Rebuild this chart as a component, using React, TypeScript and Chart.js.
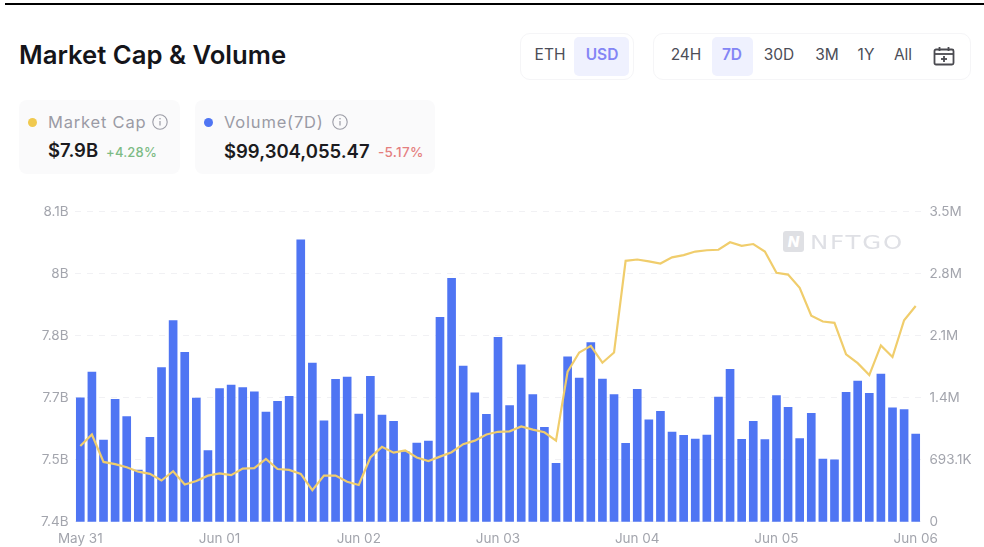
import React, { useEffect, useRef } from "react";
import { Chart, registerables } from "chart.js";

Chart.register(...registerables);

const days = ["May 31", "Jun 01", "Jun 02", "Jun 03", "Jun 04", "Jun 05"];
const hours = ["00", "02", "04", "06", "08", "10", "12", "14", "16", "18", "20", "22"];
const categories = [...days.flatMap((d) => hours.map((h) => `${d} ${h}:00`)), "Jun 06 00:00"];

// Volume (7D), USD thousands, one bar per two hours
const volumeK = [
  1386, 1673, 913, 1368, 1174, 578, 943, 1722, 2247, 1893, 1382, 794,
  1487, 1528, 1498, 1453, 1226, 1345, 1401, 3152, 1774, 1129, 1591, 1617,
  1204, 1625, 1192, 1122, 783, 879, 902, 2284, 2720, 1740, 1442, 1200,
  2061, 1297, 1755, 1420, 1055, 652, 1844, 1606, 2001, 1595, 1420, 876,
  1479, 1140, 1233, 1002, 965, 924, 969, 1394, 1703, 920, 1122, 917,
  1409, 1278, 928, 1211, 701, 693, 1446, 1572, 1435, 1651, 1274, 1252,
  980,
];

// Market cap, USD billions
const marketCapB = [
  7.571, 7.597, 7.535, 7.53, 7.523, 7.513, 7.508, 7.493, 7.514, 7.484, 7.492, 7.504,
  7.509, 7.505, 7.52, 7.521, 7.542, 7.519, 7.517, 7.508, 7.471, 7.504, 7.504, 7.49,
  7.483, 7.545, 7.569, 7.556, 7.561, 7.545, 7.537, 7.547, 7.557, 7.575, 7.583, 7.597,
  7.603, 7.604, 7.615, 7.608, 7.602, 7.583, 7.739, 7.782, 7.797, 7.759, 7.782, 7.989,
  7.992, 7.988, 7.983, 7.997, 8.002, 8.01, 8.013, 8.014, 8.031, 8.023, 8.027, 8.01,
  7.962, 7.958, 7.928, 7.865, 7.852, 7.849, 7.778, 7.758, 7.731, 7.798, 7.772, 7.855,
  7.887,
];

const leftTickValues = [7.4, 7.54, 7.68, 7.82, 7.96, 8.1];
const leftTickLabels = ["7.4B", "7.5B", "7.7B", "7.8B", "8B", "8.1B"];
const rightTickValues = [0, 693.1, 1386.2, 2079.3, 2772.4, 3465.5];
const rightTickLabels = ["0", "693.1K", "1.4M", "2.1M", "2.8M", "3.5M"];

const currencies = [
  { label: "ETH", x: 550, active: false },
  { label: "USD", x: 602, active: true },
];
const ranges = [
  { label: "24H", x: 686, active: false },
  { label: "7D", x: 732, active: true },
  { label: "30D", x: 779, active: false },
  { label: "3M", x: 827, active: false },
  { label: "1Y", x: 866, active: false },
  { label: "All", x: 903, active: false },
];

const FONT = "Inter, 'Open Sans', sans-serif";
const TICK_SIZE = 13.5;
const box = (l: number, t: number, w: number, h: number, extra: React.CSSProperties = {}): React.CSSProperties => ({
  position: "absolute", left: l, top: t, width: w, height: h, boxSizing: "border-box", ...extra,
});
const text = (l: number, cy: number, size: number, weight: number, color: string, extra: React.CSSProperties = {}): React.CSSProperties => ({
  position: "absolute", left: l, top: cy - 12, height: 24, lineHeight: "24px", fontSize: size, fontWeight: weight, color, whiteSpace: "nowrap", ...extra,
});

function Info({ x, y }: { x: number; y: number }) {
  return (
    <svg style={{ position: "absolute", left: x - 9, top: y - 9 }} width={18} height={18} viewBox="0 0 18 18">
      <circle cx={9} cy={9} r={7.2} fill="none" stroke="#9b9ca6" strokeWidth={1.1} />
      <line x1={9} y1={8} x2={9} y2={12.5} stroke="#9b9ca6" strokeWidth={1.2} />
      <circle cx={9} cy={5.8} r={0.8} fill="#9b9ca6" />
    </svg>
  );
}

export default function App() {
  const ref = useRef<HTMLCanvasElement | null>(null);

  useEffect(() => {
    const chart = new Chart(ref.current!, {
      data: {
        labels: categories,
        datasets: [
          {
            type: "line",
            data: marketCapB,
            yAxisID: "yCap",
            borderColor: "#f0cd6c",
            borderWidth: 2.2,
            pointRadius: 0,
            tension: 0,
            order: 0,
          },
          {
            type: "bar",
            data: volumeK,
            yAxisID: "yVol",
            backgroundColor: "#4f75f3",
            barThickness: 8,
            order: 1,
          },
        ],
      } as any,
      options: {
        animation: false,
        responsive: false,
        layout: { padding: { top: 21.7, left: 0, right: 0, bottom: 0 } },
        plugins: { legend: { display: false }, tooltip: { enabled: false } },
        scales: {
          x: {
            offset: true,
            grid: { display: false, drawTicks: false },
            border: { display: false },
            afterFit: (s: any) => { s.height = 25.3; },
            ticks: {
              autoSkip: false,
              maxRotation: 0,
              padding: 9,
              color: "#a3a5ad",
              font: { family: FONT, size: TICK_SIZE },
              callback: (_v: any, i: number) => {
                const c = categories[i];
                return c.endsWith(" 00:00") ? c.slice(0, 6) : "";
              },
            },
          },
          yCap: {
            position: "left",
            min: 7.4,
            max: 8.1,
            border: { display: false, dash: [6, 6] },
            afterFit: (s: any) => { s.width = 74.5; },
            afterBuildTicks: (s: any) => { s.ticks = leftTickValues.map((value) => ({ value })); },
            grid: { color: "#f1f1f4", drawTicks: false, lineWidth: 1 },
            ticks: {
              padding: 6,
              color: "#a3a5ad",
              font: { family: FONT, size: TICK_SIZE },
              callback: (_v: any, i: number) => leftTickLabels[i],
            },
          },
          yVol: {
            position: "right",
            min: 0,
            max: 3465.5,
            border: { display: false },
            afterFit: (s: any) => { s.width = 62.5; },
            afterBuildTicks: (s: any) => { s.ticks = rightTickValues.map((value) => ({ value })); },
            grid: { display: false, drawTicks: false },
            ticks: {
              padding: 8,
              color: "#a3a5ad",
              font: { family: FONT, size: TICK_SIZE },
              callback: (_v: any, i: number) => rightTickLabels[i],
            },
          },
        },
      },
    } as any);
    return () => chart.destroy();
  }, []);

  return (
    <div style={{ position: "absolute", left: 0, top: 0, width: 984, height: 547, overflow: "hidden", background: "#fff", fontFamily: FONT }}>
      <div style={box(5, 3, 979, 2, { background: "#000" })} />
      <div style={text(19, 55, 25.7, 600, "#15151a")}>Market Cap &amp; Volume</div>

      <div style={box(19, 100, 161, 74, { background: "#fafafb", borderRadius: 8 })} />
      <div style={box(28, 118, 9, 9, { background: "#f0c94f", borderRadius: "50%" })} />
      <div style={text(48, 122, 16.5, 400, "#9a9ba5", { letterSpacing: 0.8 })}>Market Cap</div>
      <Info x={160} y={122} />
      <div style={text(48, 150, 18.5, 600, "#1b1b20")}>$7.9B</div>
      <div style={text(106, 152, 13, 500, "#7dbb85", { letterSpacing: 0.2 })}>+4.28%</div>

      <div style={box(195, 100, 240, 74, { background: "#fafafb", borderRadius: 8 })} />
      <div style={box(204, 118, 9, 9, { background: "#4f75f3", borderRadius: "50%" })} />
      <div style={text(224, 122, 16.5, 400, "#9a9ba5", { letterSpacing: 0.8 })}>Volume(7D)</div>
      <Info x={340} y={122} />
      <div style={text(224, 151, 18.5, 600, "#1b1b20")}>$99,304,055.47</div>
      <div style={text(378, 152, 13.5, 500, "#e57f7f", { letterSpacing: 0.3 })}>-5.17%</div>

      <div style={box(520, 33, 114, 47, { border: "1.5px solid #f5f5f7", borderRadius: 10 })} />
      <div style={box(574, 37, 55, 39, { background: "#eff1fe", borderRadius: 5 })} />
      <div style={box(653, 33, 318, 47, { border: "1.5px solid #f5f5f7", borderRadius: 10 })} />
      <div style={box(712, 37, 41, 39, { background: "#eff1fe", borderRadius: 5 })} />
      {[...currencies, ...ranges].map((b) => (
        <div key={b.label} style={text(b.x, 55, 15.5, b.active ? 600 : 400, b.active ? "#8385f5" : "#4c4d57", { transform: "translateX(-50%)" })}>
          {b.label}
        </div>
      ))}
      <svg style={{ position: "absolute", left: 933, top: 46 }} width={22} height={20} viewBox="0 0 22 20">
        <rect x={1.5} y={3.5} width={19} height={15} rx={1.5} fill="none" stroke="#4a4a50" strokeWidth={1.8} />
        <line x1={1.5} y1={8} x2={20.5} y2={8} stroke="#4a4a50" strokeWidth={1.8} />
        <line x1={6.5} y1={1} x2={6.5} y2={5} stroke="#4a4a50" strokeWidth={1.8} />
        <line x1={15.5} y1={1} x2={15.5} y2={5} stroke="#4a4a50" strokeWidth={1.8} />
        <line x1={8} y1={13} x2={14} y2={13} stroke="#4a4a50" strokeWidth={1.8} />
        <line x1={11} y1={10} x2={11} y2={16} stroke="#4a4a50" strokeWidth={1.8} />
      </svg>

      <canvas ref={ref} width={984} height={357} style={{ position: "absolute", left: 0, top: 190, width: 984, height: 357 }} />

      <div style={box(783, 231, 21, 21, { background: "#dfe0e4", borderRadius: 3, color: "#fff", fontSize: 15, fontWeight: 800, fontStyle: "italic", lineHeight: "21px", textAlign: "center" })}>N</div>
      <div style={text(810, 241.5, 20, 500, "#dfe0e5", { letterSpacing: 1.5, fontFamily: "'DejaVu Sans', sans-serif", transform: "scaleX(1.22)", transformOrigin: "left center" })}>NFTGO</div>
    </div>
  );
}
